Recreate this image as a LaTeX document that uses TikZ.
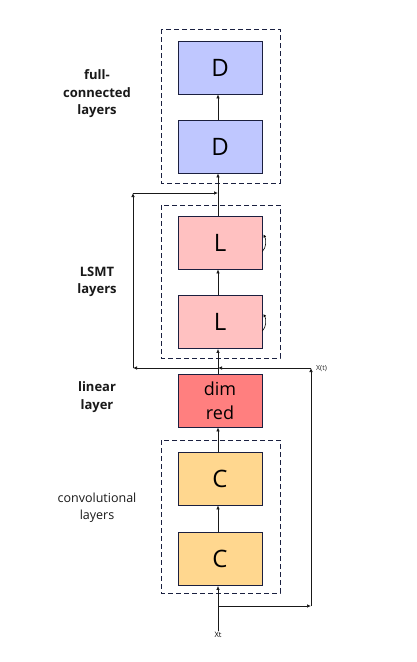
\documentclass[tikz,border=0pt]{standalone}
\usepackage{fontspec}
\setmainfont{Open Sans}
\usetikzlibrary{arrows.meta}
\definecolor{dcol}{HTML}{BFC7FF}
\definecolor{lcol}{HTML}{FFC1C1}
\definecolor{rcol}{HTML}{FF7F7F}
\definecolor{ccol}{HTML}{FFD78F}
\definecolor{edge}{HTML}{1B1F3F}
\definecolor{grp}{HTML}{1A2040}
\begin{document}
\begin{tikzpicture}[x=1pt,y=-1pt,
  layerbox/.style={draw=edge,line width=0.8pt,minimum width=84pt,minimum height=53pt,inner sep=0pt,font=\fontsize{24}{26}\selectfont,text=black},
  groupbox/.style={draw=grp,dashed,line width=0.8pt,dash pattern=on 5pt off 3pt},
  conn/.style={draw=black!90,line width=0.7pt,-{Latex[length=4pt,width=3.5pt]}},
  plain/.style={draw=black!90,line width=0.7pt},
  grouplabel/.style={font=\fontsize{13}{17.5}\selectfont\bfseries,align=center,text=black!90},
  ]
\useasboundingbox (0,0) rectangle (416,662);
\fill[white] (0,0) rectangle (416,662);
% group boxes
\draw[groupbox] (161,29) rectangle (280,183);
\draw[groupbox] (161,205) rectangle (280,358);
\draw[groupbox] (161,440) rectangle (280,593);
% layer boxes
\node[layerbox,fill=dcol] (d1) at (220,67.5) {D};
\node[layerbox,fill=dcol] (d2) at (220,146.5) {D};
\node[layerbox,fill=lcol] (l1) at (220,242.5) {L};
\node[layerbox,fill=lcol] (l2) at (220,322) {L};
\node[layerbox,fill=rcol,align=center,font=\fontsize{18}{24}\selectfont] (dr) at (220,400.5) {dim\\red};
\node[layerbox,fill=ccol] (c1) at (220,478.5) {C};
\node[layerbox,fill=ccol] (c2) at (220,559) {C};
% labels
\node[grouplabel] (lab1) at (97,94) {full-\\connected\\layers};
\node[grouplabel] (lab2) at (97,282) {LSMT\\layers};
\node[grouplabel] (lab3) at (97,397) {linear\\layer};
\node[font=\fontsize{12.5}{17}\selectfont,align=center,text=black!90] (lab4) at (97,508) {convolutional\\layers};
\node[font=\fontsize{7}{8}\selectfont,anchor=west,inner sep=1pt,text=black!85] (xtl) at (315,369) {X(t)};
\node[font=\fontsize{7.5}{8}\selectfont,inner sep=1pt] (xt) at (218,635) {Xt};
% coordinates
\coordinate (br) at (218,606);
\coordinate (rb) at (311,606);
\coordinate (rt) at (311,368);
\coordinate (mid) at (218,368);
\coordinate (lb) at (133,368);
\coordinate (lt) at (133,193);
\coordinate (tm) at (218,193);
% main chain
\draw[conn] (xt.north) -- (c2.south -| xt.north);
\draw[conn] (c2.north -| xt) -- (c1.south -| xt);
\draw[conn] (c1.north -| xt) -- (dr.south -| xt);
\draw[conn] (dr.north -| xt) -- (l2.south -| xt);
\draw[conn] (l2.north -| xt) -- (l1.south -| xt);
\draw[conn] (l1.north -| xt) -- (d2.south -| xt);
\draw[conn] (d2.north -| xt) -- (d1.south -| xt);
% skip connections
\draw[conn] (br) -- (rb);
\draw[conn] (rb) -- (rt);
\draw[conn] (rt) -- (mid);
\draw[conn] (mid) -- (lb);
\draw[conn] (lb) -- (lt);
\draw[conn] (lt) -- (tm);
% self loops
\draw[line width=0.6pt,-{Latex[length=3pt,width=3pt]}] ([yshift=-9pt]l1.east) .. controls ([xshift=4pt,yshift=-5pt]l1.east) and ([xshift=4pt,yshift=3pt]l1.east) .. ([xshift=1pt,yshift=8pt]l1.east);
\draw[line width=0.6pt,-{Latex[length=3pt,width=3pt]}] ([yshift=-9pt]l2.east) .. controls ([xshift=4pt,yshift=-5pt]l2.east) and ([xshift=4pt,yshift=3pt]l2.east) .. ([xshift=1pt,yshift=8pt]l2.east);
\end{tikzpicture}
\end{document}
